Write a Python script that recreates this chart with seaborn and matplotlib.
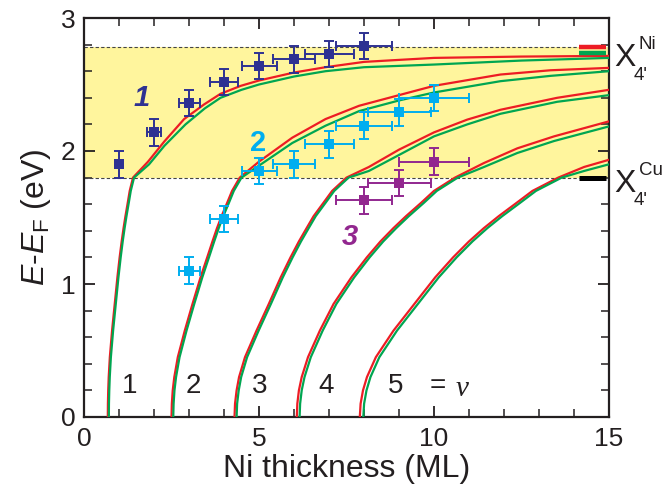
import matplotlib
matplotlib.use("Agg")
import matplotlib.pyplot as plt
import matplotlib.transforms as mtransforms
import numpy as np
import pandas as pd
import seaborn as sns

# ---- measured quantum-well state energies (E - E_F, eV) vs Ni thickness (ML)
ni_x = [1, 2, 3, 4, 5, 6, 7, 8]
ni_y = [1.90, 2.14, 2.36, 2.52, 2.64, 2.69, 2.73, 2.79]
ni_xerr = [0.0, 0.2, 0.3, 0.4, 0.5, 0.6, 0.7, 0.8]
ni_yerr = [0.1] * 8

qw2_x = [3, 4, 5, 6, 7, 8, 9, 10]
qw2_y = [1.10, 1.49, 1.85, 1.90, 2.05, 2.19, 2.29, 2.40]
qw2_xerr = [0.3, 0.4, 0.5, 0.6, 0.7, 0.8, 0.9, 1.0]
qw2_yerr = [0.1] * 8

qw3_x = [8, 9, 10]
qw3_y = [1.63, 1.76, 1.92]
qw3_xerr = [0.8, 0.9, 1.0]
qw3_yerr = [0.1] * 3

# ---- phase-accumulation model curves (nu = 1..5), two parameter sets
# energies below the Cu band edge (shared sampling levels)
e_low = [0.0, 0.1, 0.2, 0.3, 0.45, 0.65, 0.85, 1.05, 1.2, 1.32, 1.42, 1.51, 1.61, 1.70, 1.80]

red_low_nu1 = [0.68, 0.683, 0.692, 0.706, 0.738, 0.802, 0.878, 0.954, 1.018, 1.076, 1.13, 1.184, 1.249, 1.306, 1.40]
red_low_nu2 = [2.50, 2.51, 2.535, 2.58, 2.68, 2.88, 3.10, 3.33, 3.52, 3.67, 3.80, 3.93, 4.09, 4.23, 4.45]
red_low_nu3 = [4.30, 4.315, 4.36, 4.43, 4.60, 4.93, 5.28, 5.62, 5.90, 6.14, 6.36, 6.56, 6.84, 7.09, 7.50]
red_low_nu4 = [6.08, 6.095, 6.14, 6.22, 6.40, 6.74, 7.13, 7.64, 8.08, 8.47, 8.84, 9.20, 9.63, 10.0, 10.60]
red_low_nu5 = [7.88, 7.903, 7.971, 8.084, 8.339, 8.844, 9.439, 10.035, 10.545, 10.999, 11.424, 11.849, 12.359, 12.813, 13.55]

green_low_nu1 = [0.71, 0.713, 0.722, 0.736, 0.768, 0.832, 0.908, 0.984, 1.048, 1.106, 1.16, 1.214, 1.279, 1.336, 1.43]
green_low_nu2 = [2.55, 2.56, 2.585, 2.63, 2.73, 2.93, 3.15, 3.38, 3.57, 3.72, 3.85, 3.98, 4.14, 4.28, 4.50]
green_low_nu3 = [4.36, 4.375, 4.42, 4.49, 4.66, 4.99, 5.34, 5.68, 5.96, 6.20, 6.42, 6.62, 6.90, 7.15, 7.56]
green_low_nu4 = [6.16, 6.175, 6.22, 6.30, 6.48, 6.82, 7.21, 7.72, 8.16, 8.55, 8.92, 9.28, 9.71, 10.08, 10.68]
green_low_nu5 = [7.98, 8.003, 8.071, 8.184, 8.439, 8.944, 9.539, 10.135, 10.645, 11.099, 11.524, 11.949, 12.459, 12.913, 13.65]

# branches above the Cu band edge: (thickness, energy)
red_high_nu1 = [(1.83, 1.92), (2.29, 2.07), (2.86, 2.24), (3.43, 2.35), (3.90, 2.43), (4.48, 2.49),
                (5.0, 2.53), (6.0, 2.59), (6.9, 2.63), (8.0, 2.67), (10.0, 2.70), (12.5, 2.71), (15.0, 2.715)]
red_high_nu2 = [(5.0, 1.92), (5.95, 2.10), (6.9, 2.24), (7.86, 2.34), (9.0, 2.42), (10.0, 2.49),
                (11.9, 2.575), (13.33, 2.607), (15.0, 2.625)]
red_high_nu3 = [(8.14, 1.88), (9.0, 2.01), (10.0, 2.14), (10.95, 2.236), (11.9, 2.31), (13.52, 2.40), (15.0, 2.46)]
red_high_nu4 = [(11.43, 1.91), (12.38, 2.02), (13.43, 2.11), (15.0, 2.223)]
red_high_nu5 = [(14.29, 1.88), (15.0, 1.934)]

green_high_nu1 = [(1.86, 1.90), (2.30, 2.04), (2.90, 2.20), (3.45, 2.32), (3.90, 2.40), (4.50, 2.46),
                  (5.0, 2.50), (6.0, 2.56), (6.9, 2.60), (8.0, 2.63), (10.0, 2.65), (12.5, 2.68), (15.0, 2.70)]
green_high_nu2 = [(5.0, 1.89), (5.95, 2.06), (6.9, 2.19), (7.86, 2.30), (9.0, 2.38), (10.0, 2.44),
                  (11.9, 2.525), (13.33, 2.565), (15.0, 2.60)]
green_high_nu3 = [(8.14, 1.85), (9.0, 1.97), (10.0, 2.11), (10.95, 2.20), (11.9, 2.28), (13.52, 2.37), (15.0, 2.42)]
green_high_nu4 = [(11.43, 1.88), (12.38, 1.985), (13.43, 2.075), (15.0, 2.185)]
green_high_nu5 = [(14.29, 1.85), (15.0, 1.90)]

# band edges
x4_ni_red = 2.78
x4_ni_green = 2.74
x4_cu = 1.80

nu_labels = ["1", "2", "3", "4", "5"]
nu_label_x = [1.29, 3.12, 5.01, 6.91, 8.89]

RED = "#ED1C24"
GREEN = "#00A651"
NAVY = "#2E3192"
CYAN = "#00AEEF"
PURPLE = "#92278F"
YELLOW = "#FFF59D"
INK = "#231F20"

sns.set_theme(style="ticks")
FONT = ["Liberation Sans", "DejaVu Sans"]
plt.rcParams["font.family"] = FONT
plt.rcParams["mathtext.fontset"] = "custom"
plt.rcParams["mathtext.rm"] = "Liberation Sans"
plt.rcParams["mathtext.it"] = "Liberation Sans:italic"

fig = plt.figure(figsize=(6.65, 4.87), dpi=100)
ax = fig.add_axes([84 / 665, 1 - 417 / 487, 525 / 665, 399 / 487])

# shaded energy window between the two band edges
ax.axhspan(x4_cu, x4_ni_red, color=YELLOW, lw=0, zorder=0)
ax.plot([0, 14.15], [x4_ni_red, x4_ni_red], ls=(0, (3, 2)), color="#444444", lw=0.8, zorder=1)
ax.plot([0, 14.15], [x4_cu, x4_cu], ls=(0, (3, 2)), color="#444444", lw=0.8, zorder=1)

# model curves
rows = []
red_sets = [(red_low_nu1, red_high_nu1), (red_low_nu2, red_high_nu2), (red_low_nu3, red_high_nu3),
            (red_low_nu4, red_high_nu4), (red_low_nu5, red_high_nu5)]
green_sets = [(green_low_nu1, green_high_nu1), (green_low_nu2, green_high_nu2),
              (green_low_nu3, green_high_nu3), (green_low_nu4, green_high_nu4),
              (green_low_nu5, green_high_nu5)]
for tag, sets in (("r", red_sets), ("g", green_sets)):
    for nu, (low, high) in enumerate(sets, start=1):
        for x, y in zip(low, e_low):
            rows.append(dict(x=x, y=y, curve=f"{tag}{nu}"))
        for x, y in high:
            rows.append(dict(x=x, y=y, curve=f"{tag}{nu}"))
curves = pd.DataFrame(rows)
palette = {f"r{n}": RED for n in range(1, 6)}
palette.update({f"g{n}": GREEN for n in range(1, 6)})
order = [f"r{n}" for n in range(1, 6)] + [f"g{n}" for n in range(1, 6)]
sns.lineplot(data=curves, x="x", y="y", hue="curve", hue_order=order, palette=palette,
             estimator=None, sort=False, lw=1.6, legend=False, ax=ax, zorder=3)

# band-edge markers on the right
ax.plot([14.15, 14.92], [x4_ni_red, x4_ni_red], color=RED, lw=3.2, solid_capstyle="butt", zorder=4)
ax.plot([14.15, 14.92], [x4_ni_green, x4_ni_green], color=GREEN, lw=3.2, solid_capstyle="butt", zorder=4)
ax.plot([14.15, 14.92], [x4_cu, x4_cu], color="black", lw=3.6, solid_capstyle="butt", zorder=4)

# measured points with error bars
for xs, ys, xe, ye, col in [(ni_x, ni_y, ni_xerr, ni_yerr, NAVY),
                            (qw2_x, qw2_y, qw2_xerr, qw2_yerr, CYAN),
                            (qw3_x, qw3_y, qw3_xerr, qw3_yerr, PURPLE)]:
    ax.errorbar(xs, ys, xerr=xe, yerr=ye, fmt="none", ecolor=col, elinewidth=1.4,
                capsize=3.8, capthick=1.4, zorder=5)
    sns.scatterplot(x=xs, y=ys, marker="s", s=62, color=col, edgecolor=col, linewidth=0,
                    ax=ax, zorder=6)

# series labels
ax.text(1.65, 2.40, "1", color=NAVY, fontsize=21, fontweight="bold", fontstyle="italic",
        ha="center", va="center", zorder=7)
ax.text(4.97, 2.06, "2", color=CYAN, fontsize=21, fontweight="bold",
        ha="center", va="center", zorder=7)
ax.text(7.60, 1.35, "3", color=PURPLE, fontsize=21, fontweight="bold", fontstyle="italic",
        ha="center", va="center", zorder=7)

for lab, xl in zip(nu_labels, nu_label_x):
    ax.text(xl, 0.23, lab, fontsize=20, ha="center", va="center", color=INK, zorder=7)
ax.text(10.1, 0.23, "=", fontsize=20, ha="center", va="center", color=INK, zorder=7)
ax.text(10.8, 0.21, "ν", fontsize=21, ha="center", va="center", color=INK,
        family=["Liberation Serif", "DejaVu Serif"], fontstyle="italic", zorder=7)

# band-edge labels outside the right spine
trans = mtransforms.blended_transform_factory(ax.transAxes, ax.transData)
for yx, ysup, ysub, sup in [(2.70, 2.80, 2.57, "Ni"), (1.755, 1.85, 1.625, "Cu")]:
    ax.text(1.011, yx, "X", fontsize=23, transform=trans, ha="left", va="center", color=INK)
    ax.text(1.057, ysup, sup, fontsize=13.5, transform=trans, ha="left", va="center", color=INK)
    ax.text(1.046, ysub, "4'", fontsize=13.5, transform=trans, ha="left", va="center", color=INK)

ax.set_xlim(0, 15)
ax.set_ylim(0, 3)
ax.set_xticks([0, 5, 10, 15])
ax.set_xticks(np.arange(0, 16, 1), minor=True)
ax.set_yticks([0, 1, 2, 3])
ax.set_yticks(np.arange(0, 3.01, 0.2), minor=True)
ax.tick_params(which="both", direction="in", top=True, right=True, color=INK,
               labelsize=19, labelcolor=INK)
ax.tick_params(which="major", length=8, width=1.3)
ax.tick_params(which="minor", length=5.5, width=1.1)
ax.tick_params(axis="x", which="major", pad=7)
ax.tick_params(axis="y", which="major", pad=6)
for s in ax.spines.values():
    s.set_linewidth(1.6)
    s.set_color(INK)

ax.set_xlabel("Ni thickness (ML)", fontsize=23, color=INK, labelpad=2)
ax.set_ylabel(r"$E$-$E_{\mathrm{F}}$ (eV)", fontsize=23, color=INK, labelpad=6)

fig.savefig("out.png", dpi=100)
